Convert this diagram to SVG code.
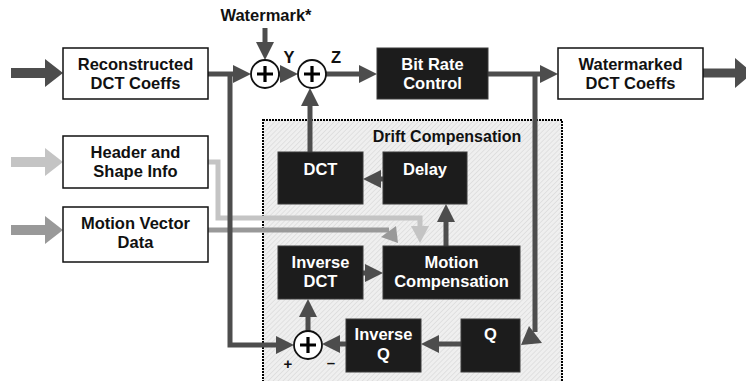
<svg xmlns="http://www.w3.org/2000/svg" width="746" height="381" viewBox="0 0 746 381">
<style>
text{font-family:"Liberation Sans",Arial,sans-serif;font-weight:bold;font-size:16.5px;text-anchor:middle}
.wb{fill:#fff;stroke:#111;stroke-width:1.5}
.bb{fill:#1c1c1c;stroke:#3a3a3a;stroke-width:1}
.wt{fill:#111}
.bt{fill:#fff}
.dk{fill:none;stroke:#4d4d4d;stroke-width:5;marker-end:url(#ad)}
.dk0{fill:none;stroke:#4d4d4d;stroke-width:5}
.sum circle{fill:#fff;stroke:#111;stroke-width:1.8}
.sum path{stroke:#000;stroke-width:3.2;fill:none}
</style>
<defs>
<pattern id="hatch" width="3.5" height="3.5" patternUnits="userSpaceOnUse" patternTransform="rotate(45)">
<rect width="3.5" height="3.5" fill="#efefef"/>
<line x1="0" y1="0" x2="0" y2="3.5" stroke="#d4d4d4" stroke-width="1.1"/>
</pattern>
<marker id="ad" markerUnits="userSpaceOnUse" markerWidth="18" markerHeight="18" refX="0" refY="9" orient="auto" overflow="visible"><path d="M0,0 L18,9 L0,18 z" fill="#4d4d4d"/></marker>
<marker id="al" markerUnits="userSpaceOnUse" markerWidth="18" markerHeight="18" refX="0" refY="9" orient="auto" overflow="visible"><path d="M0,0 L17,9 L0,18 z" fill="#c4c4c4"/></marker>
<marker id="bd" markerUnits="userSpaceOnUse" markerWidth="18" markerHeight="28" refX="0" refY="14" orient="auto" overflow="visible"><path d="M0,0 L18,14 L0,28 z" fill="#4d4d4d"/></marker>
<marker id="bl" markerUnits="userSpaceOnUse" markerWidth="18" markerHeight="28" refX="0" refY="14" orient="auto" overflow="visible"><path d="M0,0 L18,14 L0,28 z" fill="#c4c4c4"/></marker>
<marker id="bm" markerUnits="userSpaceOnUse" markerWidth="18" markerHeight="28" refX="0" refY="14" orient="auto" overflow="visible"><path d="M0,0 L18,14 L0,28 z" fill="#999"/></marker>
<marker id="bo" markerUnits="userSpaceOnUse" markerWidth="18" markerHeight="30" refX="0" refY="15" orient="auto" overflow="visible"><path d="M0,0 L18,15 L0,30 z" fill="#4d4d4d"/></marker>
</defs>

<g id="drift-compensation">
<rect x="263" y="120" width="299" height="270" fill="url(#hatch)" stroke="#000" stroke-width="2" stroke-dasharray="2,1"/>
<text x="447" y="142" class="wt" style="font-size:16px">Drift Compensation</text>
</g>

<g id="connectors">
<path d="M11,73 L45,73" stroke="#4d4d4d" stroke-width="10" marker-end="url(#bd)"/>
<path d="M11,162 L45,162" stroke="#c4c4c4" stroke-width="10" marker-end="url(#bl)"/>
<path d="M11,230 L45,230" stroke="#999" stroke-width="10" marker-end="url(#bm)"/>
<path d="M703,73 L735,73" stroke="#4d4d4d" stroke-width="9" marker-end="url(#bo)"/>
<path d="M208,162 L218,162 L218,218 L420,218 L420,226" fill="none" stroke="#c4c4c4" stroke-width="5" marker-end="url(#al)"/>
<path d="M208,230 L389,230" fill="none" stroke="#999" stroke-width="5"/>
<polygon points="381,237 396,226 398,243" fill="#999"/>
<path class="dk" d="M208,74 L233,74"/>
<path class="dk" d="M230,74 L230,345 L276,345"/>
<path class="dk" d="M265,28 L265,42"/>
<path class="dk" d="M279,74 L280,74"/>
<path class="dk" d="M326,74 L359,74"/>
<path class="dk" d="M488,74 L540,74"/>
<path class="dk0" d="M535,74 L535,332"/>
<polygon points="521,345 529,326 542,343" fill="#4d4d4d"/>
<path class="dk" d="M310,152 L310,106"/>
<path class="dk" d="M384,179 L381,179"/>
<path class="dk" d="M363,273 L365,273"/>
<path class="dk" d="M446,246 L446,222"/>
<path class="dk" d="M461,344 L439,344"/>
<path class="dk" d="M346,344 L340,344"/>
<path class="dk" d="M308,331 L308,317"/>
</g>

<g id="watermark-label"><text x="266" y="21" class="wt">Watermark*</text></g>

<g id="reconstructed">
<rect class="wb" x="63" y="48" width="145" height="51"/>
<text x="135.5" y="70" class="wt">Reconstructed</text>
<text x="135.5" y="89" class="wt">DCT Coeffs</text>
</g>
<g id="header">
<rect class="wb" x="63" y="136" width="145" height="52"/>
<text x="135.5" y="158" class="wt">Header and</text>
<text x="135.5" y="177" class="wt">Shape Info</text>
</g>
<g id="motion-vector">
<rect class="wb" x="63" y="207" width="145" height="55"/>
<text x="135.5" y="229" class="wt">Motion Vector</text>
<text x="135.5" y="248" class="wt">Data</text>
</g>
<g id="sum1" class="sum">
<circle cx="265" cy="74" r="14"/>
<path d="M257,74 H273 M265,66 V82"/>
</g>
<g id="sum2" class="sum">
<circle cx="312" cy="74" r="14"/>
<path d="M304,74 H320 M312,66 V82"/>
</g>
<g id="label-y"><text x="289" y="63" class="wt">Y</text></g>
<g id="label-z"><text x="336" y="63" class="wt">Z</text></g>
<g id="bit-rate">
<rect class="bb" x="377" y="48" width="111" height="51"/>
<text x="432.5" y="70" class="bt">Bit Rate</text>
<text x="432.5" y="89" class="bt">Control</text>
</g>
<g id="watermarked">
<rect class="wb" x="558" y="48" width="145" height="51"/>
<text x="630.5" y="70" class="wt">Watermarked</text>
<text x="630.5" y="89" class="wt">DCT Coeffs</text>
</g>
<g id="dct">
<rect class="bb" x="278" y="152" width="85" height="52"/>
<text x="320.5" y="175" class="bt">DCT</text>
</g>
<g id="delay">
<rect class="bb" x="383" y="152" width="84" height="52"/>
<text x="425" y="175" class="bt">Delay</text>
</g>
<g id="inverse-dct">
<rect class="bb" x="278" y="246" width="85" height="53"/>
<text x="320.5" y="268" class="bt">Inverse</text>
<text x="320.5" y="287" class="bt">DCT</text>
</g>
<g id="motion-compensation">
<rect class="bb" x="383" y="246" width="137" height="53"/>
<text x="451.5" y="268" class="bt">Motion</text>
<text x="451.5" y="287" class="bt">Compensation</text>
</g>
<g id="inverse-q">
<rect class="bb" x="346" y="319" width="75" height="53"/>
<text x="383.5" y="340" class="bt">Inverse</text>
<text x="383.5" y="360" class="bt">Q</text>
</g>
<g id="q">
<rect class="bb" x="461" y="319" width="59" height="53"/>
<text x="490.5" y="340" class="bt">Q</text>
</g>
<g id="sum3" class="sum">
<circle cx="308" cy="345" r="14"/>
<path d="M300,345 H316 M308,337 V353"/>
</g>
<g id="sign-plus"><text x="288" y="369" class="wt" style="font-size:15px">+</text></g>
<g id="sign-minus"><text x="331" y="368" class="wt" style="font-size:15px">–</text></g>
</svg>
